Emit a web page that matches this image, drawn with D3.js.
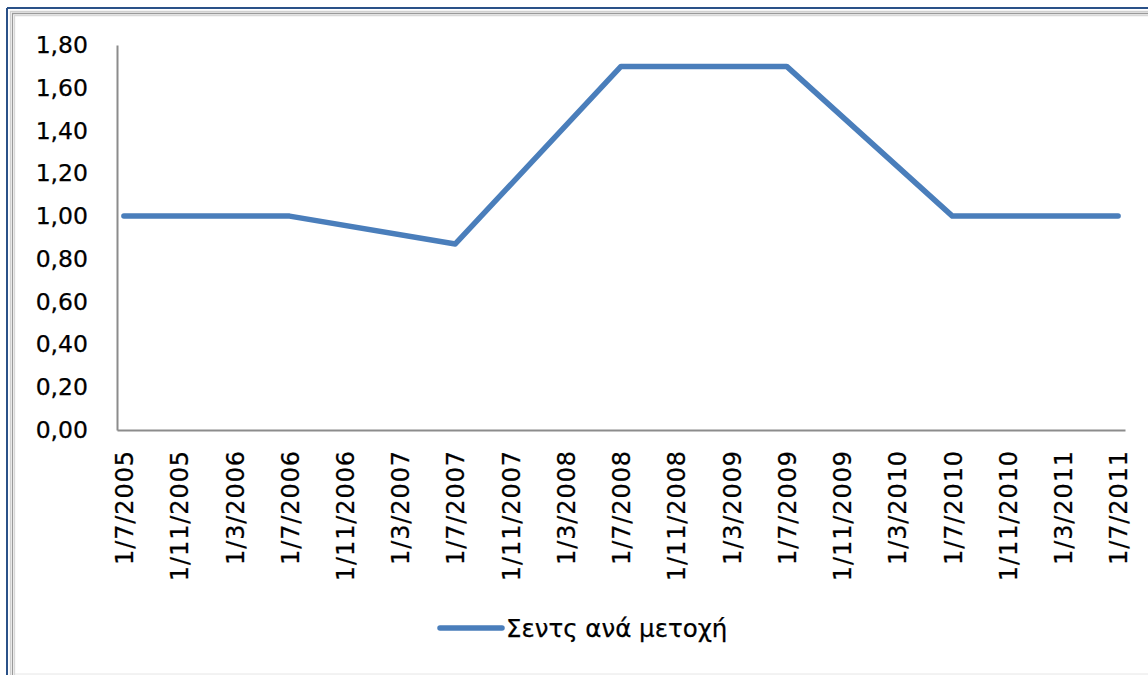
<!DOCTYPE html>
<html>
<head>
<meta charset="utf-8">
<script src="https://cdn.jsdelivr.net/npm/d3@7"></script>
<style>
  html, body { margin: 0; padding: 0; background: #fff; }
  svg { display: block; }
  text { font-family: "DejaVu Sans", Verdana, sans-serif; fill: #000; }
</style>
</head>
<body>
<svg id="chart" width="1148" height="675"></svg>
<script>
// Data (dates as day/month/year, values in cents per share)
const pointDates = ["1/7/2005", "1/7/2006", "1/7/2007", "1/7/2008", "1/7/2009", "1/7/2010", "1/7/2011"];
const pointValues = [1.00, 1.00, 0.87, 1.70, 1.70, 1.00, 1.00];
const tickLabels = ["1/7/2005", "1/11/2005", "1/3/2006", "1/7/2006", "1/11/2006", "1/3/2007",
  "1/7/2007", "1/11/2007", "1/3/2008", "1/7/2008", "1/11/2008", "1/3/2009", "1/7/2009",
  "1/11/2009", "1/3/2010", "1/7/2010", "1/11/2010", "1/3/2011", "1/7/2011"];
const yTicks = [0, 0.2, 0.4, 0.6, 0.8, 1.0, 1.2, 1.4, 1.6, 1.8];
const seriesName = "Σεντς ανά μετοχή";

// month index from July 2005
function monthIndex(s) {
  const [d, m, y] = s.split("/").map(Number);
  return (y - 2005) * 12 + (m - 7);
}

const svg = d3.select("#chart");

// Frame
svg.append("line").attr("x1", 7).attr("y1", 8).attr("x2", 1148).attr("y2", 8)
  .attr("stroke", "#2a5188").attr("stroke-width", 2);
svg.append("line").attr("x1", 7).attr("y1", 8).attr("x2", 7).attr("y2", 675)
  .attr("stroke", "#2a5188").attr("stroke-width", 2);
[[10.5, "#d0d0d0"], [12.5, "#9a9a9a"], [14.5, "#d8d8d8"]].forEach(([o, c]) => {
  svg.append("path").attr("d", `M${o},675 V${o + 1} H1148`)
    .attr("fill", "none").attr("stroke", c).attr("stroke-width", 1.3);
});
svg.append("line").attr("x1", 15).attr("y1", 674).attr("x2", 1148).attr("y2", 674)
  .attr("stroke", "#e6e6e6").attr("stroke-width", 1);

const plot = { left: 117, right: 1125, top: 45, bottom: 430 };

const x = d3.scaleLinear().domain([-0.5, 72.5]).range([plot.left, plot.right]);
const y = d3.scaleLinear().domain([0, 1.8]).range([plot.bottom, plot.top]);

const fmt = v => d3.format(".2f")(v).replace(".", ",");

// Y axis
const yAxis = svg.append("g").attr("transform", `translate(${plot.left},0)`)
  .call(d3.axisLeft(y).tickValues(yTicks).tickSize(0).tickPadding(29).tickFormat(fmt));
yAxis.select(".domain").attr("stroke", "#8c8c8c").attr("stroke-width", 2);
yAxis.selectAll("text").style("font-size", "23.5px").attr("fill", "#000")
  .attr("stroke", "#000").attr("stroke-width", 0.25);

// X axis
const xAxis = svg.append("g").attr("transform", `translate(0,${plot.bottom})`)
  .call(d3.axisBottom(x).tickValues(tickLabels.map(monthIndex)).tickSize(0)
    .tickFormat((d, i) => tickLabels[i]));
xAxis.select(".domain").attr("stroke", "#8c8c8c").attr("stroke-width", 2);
xAxis.selectAll("text")
  .style("font-size", "24px").style("letter-spacing", "0.9px").attr("fill", "#000")
  .attr("stroke", "#000").attr("stroke-width", 0.25)
  .attr("text-anchor", "end")
  .attr("transform", "rotate(-90)")
  .attr("x", -20).attr("y", 0).attr("dy", "0.36em");

// Line
const data = pointDates.map((d, i) => ({ m: monthIndex(d), v: pointValues[i] }));
svg.append("path").datum(data)
  .attr("fill", "none").attr("stroke", "#4a7ebb").attr("stroke-width", 5.5)
  .attr("stroke-linecap", "round").attr("stroke-linejoin", "round")
  .attr("d", d3.line().x(d => x(d.m)).y(d => y(d.v)));

// Legend
const lg = svg.append("g");
lg.append("line").attr("x1", 440).attr("x2", 502).attr("y1", 628).attr("y2", 628)
  .attr("stroke", "#4a7ebb").attr("stroke-width", 5.5).attr("stroke-linecap", "round");
lg.append("text").attr("x", 506).attr("y", 637).style("font-size", "24.5px")
  .attr("stroke", "#000").attr("stroke-width", 0.25).text(seriesName);
</script>
</body>
</html>
